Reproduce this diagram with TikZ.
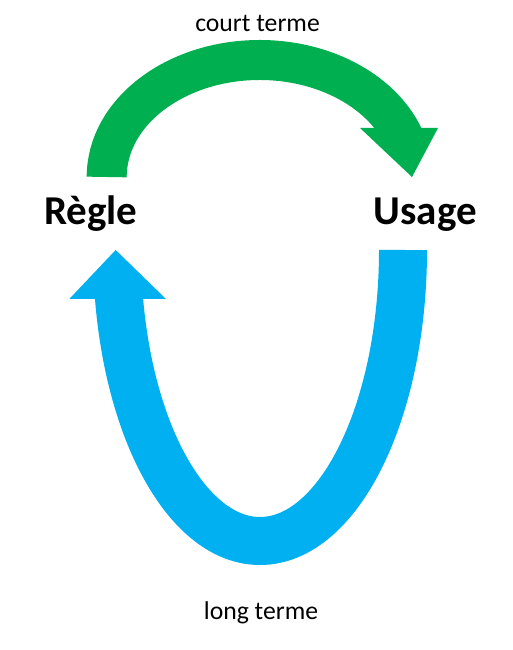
\documentclass[tikz,border=0pt]{standalone}
\usepackage{fontspec}
\setmainfont{Carlito}
\definecolor{vert}{HTML}{00B050}
\definecolor{bleu}{HTML}{00B0F0}

\begin{document}
\begin{tikzpicture}[
  x=1pt, y=1pt,
  lbl/.style={inner sep=0pt, anchor=base, font=\fontsize{25.7}{30}\selectfont},
  pole/.style={inner sep=0pt, anchor=base, font=\fontsize{41}{48}\selectfont\bfseries},
  shaft/.style={line width=#1, line cap=butt},
  head/.style={fill=#1, draw=none}
]
\useasboundingbox (0,0) rectangle (513,650);

% labels
\node[pole] (regle) at (90.7,425)  {Règle};
\node[pole] (usage) at (425.3,425) {Usage};
\node[lbl]  (court) at (257.5,618.3) {court terme};
\node[lbl]  (long)  at (261,30)    {long terme};

% short term: green arc over the top
\coordinate (gstart) at (106.7,473);
\draw[shaft=40pt, vert] (gstart)
  arc[start angle=180, end angle=18, x radius=153, y radius=117];
\fill[head=vert] (360,522) -- (438,522) -- (412,473) -- cycle;

% long term: blue U underneath
\coordinate (bstart) at (403,400);
\draw[shaft=48pt, bleu] (bstart)
  arc[start angle=0, end angle=-171.7, x radius=143, y radius=291];
\fill[head=bleu] (69.3,351) -- (166,351) -- (115.7,400) -- cycle;
\end{tikzpicture}
\end{document}
